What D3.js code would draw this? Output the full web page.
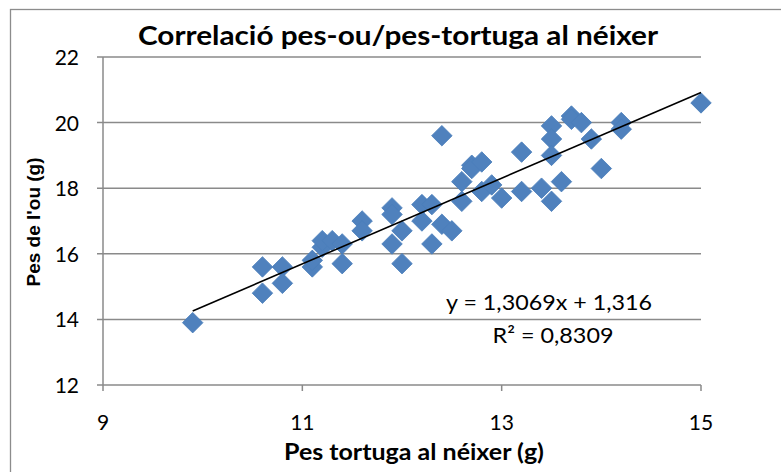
<!DOCTYPE html>
<html>
<head>
<meta charset="utf-8">
<script src="https://cdn.jsdelivr.net/npm/d3@7"></script>
<style>
	body { margin: 0; background: #fff; }
	svg { display: block; }
</style>
</head>
<body>
<svg id="chart" width="781" height="472"></svg>
<script>
// Pes tortuga al néixer (g)
const turtleWeight = [
	9.9, 10.6, 10.6, 10.8, 10.8, 11.1, 11.1, 11.2, 11.2, 11.3,
	11.4, 11.4, 11.6, 11.6, 11.9, 11.9, 11.9, 12.0, 12.0, 12.2,
	12.2, 12.3, 12.3, 12.4, 12.4, 12.5, 12.6, 12.6, 12.7, 12.7,
	12.8, 12.8, 12.9, 13.0, 13.2, 13.2, 13.4, 13.5, 13.5, 13.5,
	13.5, 13.6, 13.7, 13.7, 13.8, 13.9, 14.0, 14.2, 14.2, 15.0,
];
// Pes de l'ou (g)
const eggWeight = [
	13.9, 15.6, 14.8, 15.6, 15.1, 15.6, 15.8, 16.2, 16.4, 16.4,
	16.3, 15.7, 17.0, 16.7, 17.4, 17.2, 16.3, 16.7, 15.7, 17.5,
	17.0, 17.5, 16.3, 19.6, 16.9, 16.7, 18.2, 17.6, 18.7, 18.6,
	18.8, 17.9, 18.1, 17.7, 19.1, 17.9, 18.0, 19.9, 19.5, 19.0,
	17.6, 18.2, 20.2, 20.1, 20.0, 19.5, 18.6, 20.0, 19.8, 20.6,
];
const xTicks = [9, 11, 13, 15];
const yTicks = [12, 14, 16, 18, 20, 22];
const slope = 1.3069;
const intercept = 1.316;
const rSquared = 0.8309;

const svg = d3.select("#chart");
const W = 781, H = 472;

// outer chart border (runs off the right and bottom edges)
svg.append("rect")
	.attr("x", 10.5).attr("y", 9.5)
	.attr("width", W + 10).attr("height", H + 10)
	.attr("fill", "none").attr("stroke", "#8c8c8c").attr("stroke-width", 1.3);

const x = d3.scaleLinear().domain([9, 15]).range([103, 701]);
const y = d3.scaleLinear().domain([12, 22]).range([385, 57]);

const gridColor = "#8a8a8a";
const fontNum = "Lato, 'Open Sans', sans-serif";

// horizontal gridlines
svg.append("g")
	.selectAll("line")
	.data(yTicks)
	.join("line")
	.attr("x1", x(9) - 6).attr("x2", x(15))
	.attr("y1", (d) => y(d)).attr("y2", (d) => y(d))
	.attr("stroke", gridColor).attr("stroke-width", 1.5);

// y axis line
svg.append("line")
	.attr("x1", x(9)).attr("x2", x(9))
	.attr("y1", y(22)).attr("y2", y(12))
	.attr("stroke", gridColor).attr("stroke-width", 1.5);

// x ticks
svg.append("g")
	.selectAll("line")
	.data(xTicks)
	.join("line")
	.attr("x1", (d) => x(d)).attr("x2", (d) => x(d))
	.attr("y1", y(12)).attr("y2", y(12) + 6)
	.attr("stroke", gridColor).attr("stroke-width", 1.5);

// tick labels
svg.append("g")
	.selectAll("text")
	.data(yTicks)
	.join("text")
	.attr("x", 79).attr("y", (d) => y(d) + 8)
	.attr("text-anchor", "end")
	.attr("font-family", fontNum).attr("font-size", 21)
	.text((d) => d);

svg.append("g")
	.selectAll("text")
	.data(xTicks)
	.join("text")
	.attr("x", (d) => x(d)).attr("y", 430)
	.attr("text-anchor", "middle")
	.attr("font-family", fontNum).attr("font-size", 21)
	.text((d) => d);

// points (diamonds)
const diamond = d3.symbol().type(d3.symbolSquare).size(210);
svg.append("g")
	.selectAll("path")
	.data(turtleWeight.map((t, i) => [t, eggWeight[i]]))
	.join("path")
	.attr("d", diamond)
	.attr("transform", (d) => `translate(${x(d[0])},${y(d[1])}) rotate(45)`)
	.attr("fill", "#4f81bd")
	.attr("stroke", "#4a7ebb").attr("stroke-width", 0.8);

// linear trendline
const xMin = d3.min(turtleWeight), xMax = d3.max(turtleWeight);
svg.append("line")
	.attr("x1", x(xMin)).attr("y1", y(slope * xMin + intercept))
	.attr("x2", x(xMax)).attr("y2", y(slope * xMax + intercept))
	.attr("stroke", "#000").attr("stroke-width", 1.6);

// equation label
const fmt = (v) => String(v).replace(".", ",");
svg.append("text")
	.attr("x", 549).attr("y", 310)
	.attr("text-anchor", "middle")
	.attr("font-family", fontNum).attr("font-size", 22)
	.attr("textLength", 206).attr("lengthAdjust", "spacingAndGlyphs")
	.text(`y = ${fmt(slope)}x + ${fmt(intercept)}`);
svg.append("text")
	.attr("x", 553).attr("y", 343)
	.attr("text-anchor", "middle")
	.attr("font-family", fontNum).attr("font-size", 22)
	.attr("textLength", 121).attr("lengthAdjust", "spacingAndGlyphs")
	.text(`R² = ${fmt(rSquared)}`);

// titles
svg.append("text")
	.attr("x", 398).attr("y", 45)
	.attr("text-anchor", "middle")
	.attr("font-family", fontNum).attr("font-weight", "bold").attr("font-size", 26)
	.attr("textLength", 520).attr("lengthAdjust", "spacingAndGlyphs")
	.text("Correlació pes-ou/pes-tortuga al néixer");

svg.append("text")
	.attr("x", 414).attr("y", 460)
	.attr("text-anchor", "middle")
	.attr("font-family", fontNum).attr("font-weight", "bold").attr("font-size", 22)
	.attr("textLength", 260).attr("lengthAdjust", "spacingAndGlyphs")
	.text("Pes tortuga al néixer (g)");

svg.append("text")
	.attr("transform", "translate(40,222) rotate(-90)")
	.attr("text-anchor", "middle")
	.attr("font-family", "'Liberation Sans', Arial, sans-serif")
	.attr("font-weight", "bold").attr("font-size", 19)
	.text("Pes de l'ou (g)");
</script>
</body>
</html>
